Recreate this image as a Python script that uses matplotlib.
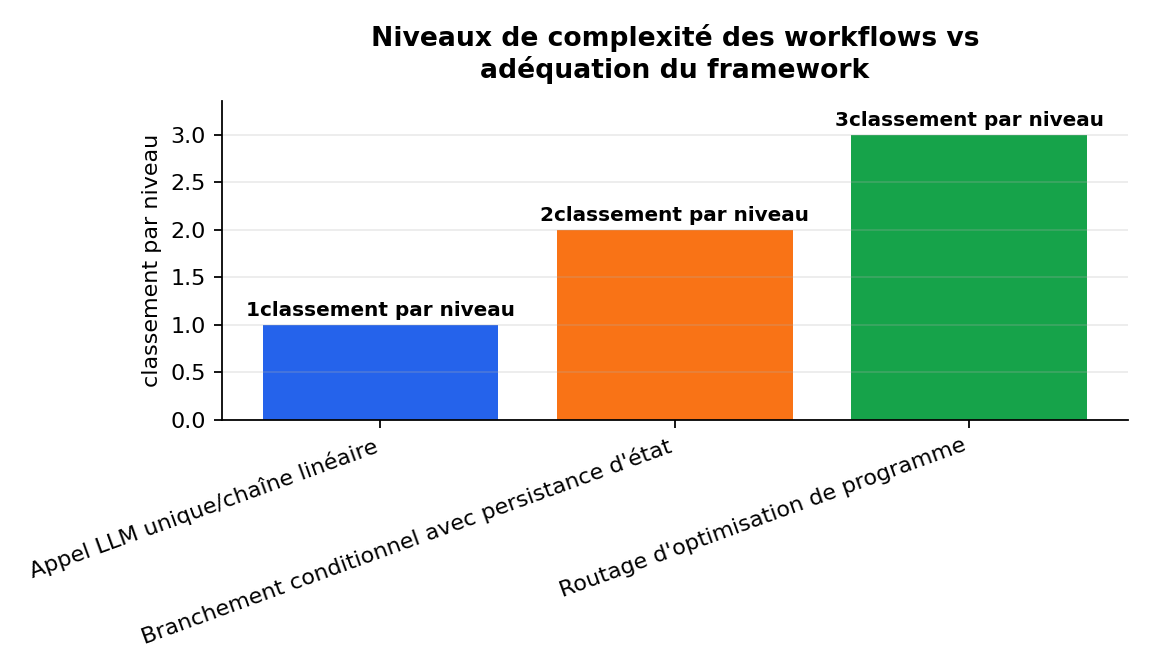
import matplotlib.pyplot as plt

categories = ["Appel LLM unique/chaîne linéaire",
              "Branchement conditionnel avec persistance d'état",
              "Routage d'optimisation de programme"]
values = [1, 2, 3]
colors = ["#2563eb", "#f97316", "#16a34a"]
yticks = [0.0, 0.5, 1.0, 1.5, 2.0, 2.5, 3.0]

fig, ax = plt.subplots(figsize=(7.2, 4.2), dpi=160)
x = range(len(categories))
bars = ax.bar(x, values, color=colors, width=0.8)
for b, v in zip(bars, values):
    ax.text(b.get_x() + b.get_width() / 2, v + 0.05, f"{v}classement par niveau",
            ha="center", va="bottom", fontsize=9, fontweight="bold")

ax.set_xticks(list(x))
ax.set_xticklabels(categories, rotation=20, ha="right")
ax.set_yticks(yticks)
ax.set_ylim(0, 3.36)
ax.set_ylabel("classement par niveau")
ax.set_title("Niveaux de complexité des workflows vs\nadéquation du framework",
             fontsize=12, fontweight="bold", pad=10)
ax.yaxis.grid(True, color="#b0b0b0", alpha=0.25)
ax.spines["top"].set_visible(False)
ax.spines["right"].set_visible(False)

plt.tight_layout()
plt.savefig("out.png", dpi=160)
